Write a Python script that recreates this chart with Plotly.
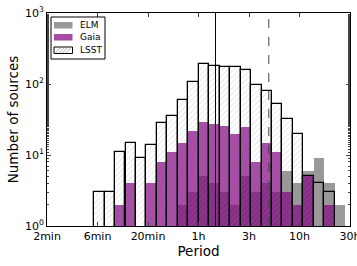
import plotly.graph_objects as go

# log10(Period / s) bin centres
bin_centers = [2.518, 2.622, 2.725, 2.829, 2.932, 3.036, 3.140, 3.243, 3.347, 3.450,
               3.554, 3.658, 3.761, 3.865, 3.968, 4.072, 4.176, 4.279, 4.383, 4.486,
               4.590, 4.694, 4.797, 4.901]
bin_width = 0.1036

lsst = [3, 3, 11, 15, 9, 14, 28, 35, 60, 108, 191, 181, 175, 173, 156, 97, 80, 53, 32, 20, 5, 4, 3, 0]
gaia = [0, 0, 2, 4, 0, 4, 8, 11, 15, 22, 29, 27, 26, 20, 25, 8, 15, 11, 3, 2, 5, 0, 2, 0]
elm = [0, 0, 0, 0, 0, 0, 0, 0, 2, 3, 5, 4, 3, 2, 5, 3, 4, 3, 6, 4, 6, 9, 4, 2]

tick_vals = [2, 2.5, 3, 3.5, 4, 4.5, 5]
tick_text = ["2min", "6min", "20min", "1h", "3h", "10h", "30h"]
y_tick_vals = [1, 10, 100, 1000]
y_tick_text = ["10<sup>0</sup>", "10<sup>1</sup>", "10<sup>2</sup>", "10<sup>3</sup>"]

solid_line_x = 3.668
dashed_line_x = 4.196

series_names = ["ELM", "Gaia", "LSST"]
elm_color = "rgba(128,128,128,0.8)"
gaia_color = "rgba(128,0,128,0.7)"
hatch_color = "rgba(140,140,140,0.9)"

W, H = 357, 266
L, R, T, B = 47, 7, 13, 40
PW, PH = W - L - R, H - T - B


def nz(v):
    return [x if x > 0 else None for x in v]


def px(x):
    return (x - L) / PW


def py(y):
    return (H - B - y) / PH


fig = go.Figure()
fig.add_trace(go.Bar(
    x=bin_centers, y=nz(elm), width=bin_width, name=series_names[0],
    marker=dict(color=elm_color, line=dict(width=0)),
))
fig.add_trace(go.Bar(
    x=bin_centers, y=nz(gaia), width=bin_width, name=series_names[1],
    marker=dict(color=gaia_color, line=dict(width=0)),
))
fig.add_trace(go.Bar(
    x=bin_centers, y=nz(lsst), width=bin_width, name=series_names[2],
    marker=dict(color="rgba(0,0,0,0)",
                line=dict(color="black", width=1.3),
                pattern=dict(shape="/", fgcolor=hatch_color,
                             bgcolor="rgba(0,0,0,0)", size=4, solidity=0.15)),
))

fig.add_shape(type="line", x0=solid_line_x, x1=solid_line_x, y0=0, y1=1,
              xref="x", yref="paper", line=dict(color="black", width=1))
fig.add_shape(type="line", x0=dashed_line_x, x1=dashed_line_x, y0=0, y1=1,
              xref="x", yref="paper", line=dict(color="#444", width=1, dash="dash"))

# manual legend (matplotlib-style wide swatches)
fig.add_shape(type="rect", xref="paper", yref="paper",
              x0=px(51), x1=px(105), y0=py(59), y1=py(17),
              line=dict(color="black", width=1), fillcolor="white")
swatch_rows = [(22, 28.5), (34, 40.5), (47, 53.5)]
fills = [elm_color, gaia_color, "white"]
borders = [None, None, "black"]
for (y0, y1), f, b, name in zip(swatch_rows, fills, borders, series_names):
    fig.add_shape(type="rect", xref="paper", yref="paper",
                  x0=px(54), x1=px(72.5), y0=py(y1), y1=py(y0),
                  line=dict(color=b or f, width=1 if b else 0), fillcolor=f)
    fig.add_annotation(x=px(78), y=py((y0 + y1) / 2), xref="paper", yref="paper",
                       text=name, showarrow=False, xanchor="left", yanchor="middle",
                       font=dict(size=9, color="black"))
for x0 in [55, 58.5, 62, 65.5]:
    fig.add_shape(type="line", xref="paper", yref="paper",
                  x0=px(x0), x1=px(x0 + 6), y0=py(53.3), y1=py(47.2),
                  line=dict(color=hatch_color, width=0.8))

fig.update_layout(
    width=W, height=H,
    margin=dict(l=L, r=R, t=T, b=B),
    barmode="overlay", bargap=0,
    plot_bgcolor="white", paper_bgcolor="white",
    font=dict(family="DejaVu Sans", size=11, color="black"),
    showlegend=False,
    xaxis=dict(range=[1.9999, 5.0001], tickvals=tick_vals, ticktext=tick_text,
               ticks="inside", ticklen=4, mirror="allticks", showline=True,
               linecolor="black", linewidth=1, showgrid=False, zeroline=False,
               automargin=False, ticklabeloverflow="allow",
               title=dict(text="Period", font=dict(size=13.5), standoff=4)),
    yaxis=dict(type="log", range=[0, 3], tickvals=y_tick_vals, ticktext=y_tick_text,
               ticks="inside", ticklen=4, mirror="allticks", showline=True,
               linecolor="black", linewidth=1, showgrid=False, zeroline=False,
               automargin=False,
               minor=dict(ticks="inside", ticklen=2, showgrid=False),
               title=dict(text="Number of sources", font=dict(size=13.5), standoff=3)),
)

fig.write_html("out.html", config={"displayModeBar": False},
               post_script="document.body.style.margin='0';document.body.style.overflow='hidden';")
